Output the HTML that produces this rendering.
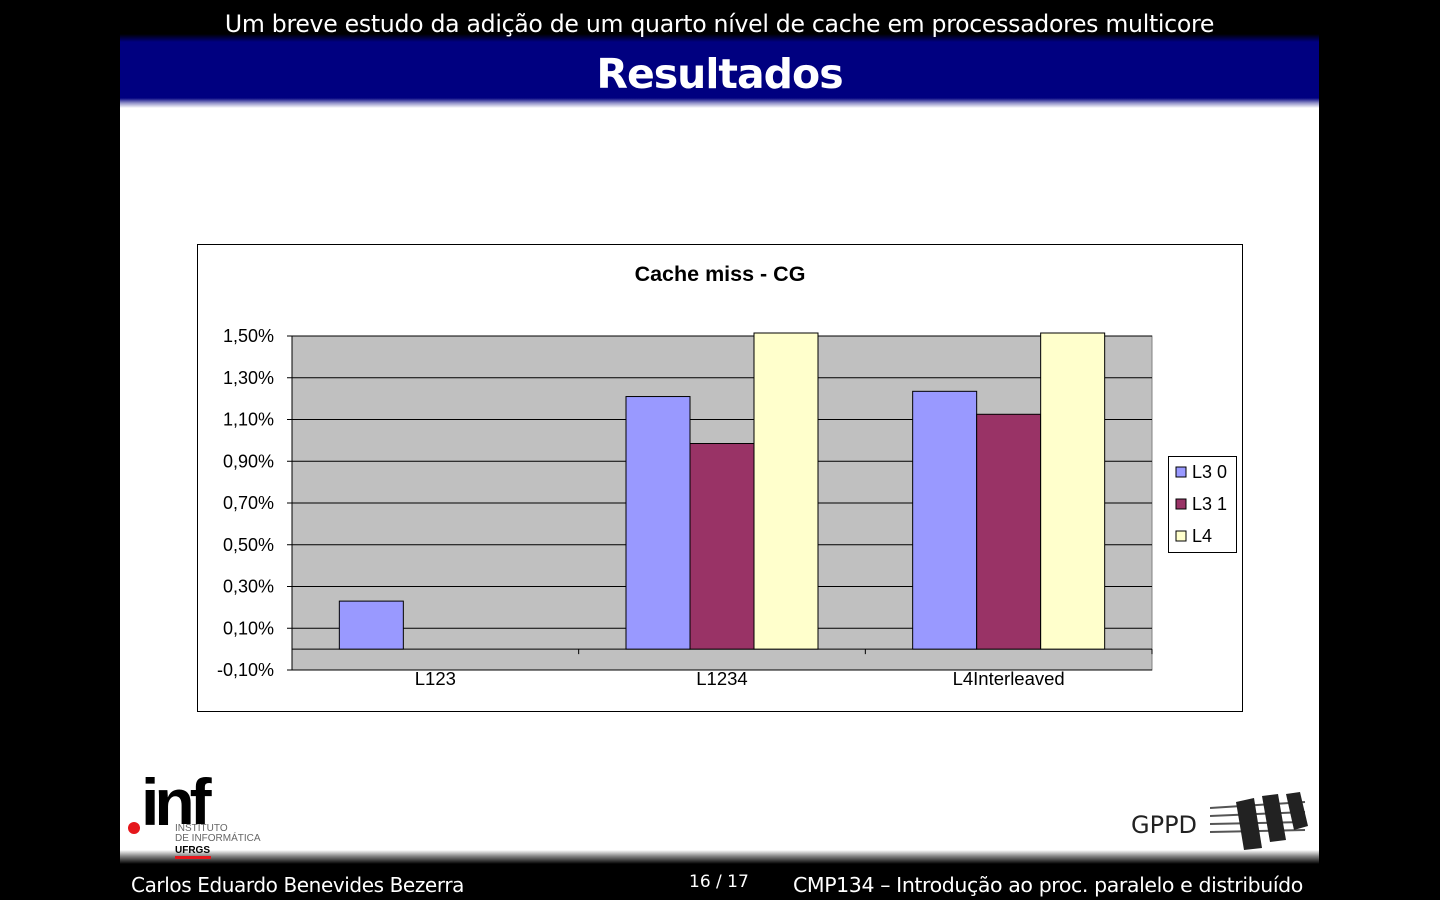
<!DOCTYPE html>
<html><head><meta charset="utf-8"><style>
body{margin:0;width:1440px;height:900px;background:#000;position:relative;overflow:hidden;font-family:"Liberation Sans",sans-serif}
.abs{position:absolute}
</style></head><body>
<div class="abs" style="left:120px;top:0;width:1199px;height:900px;background:#fff"></div>
<div class="abs" style="left:120px;top:0;width:1199px;height:42px;background:linear-gradient(#000 0,#000 34px,#000080 42px)"></div>
<div class="abs" style="left:120px;top:42px;width:1199px;height:66px;background:linear-gradient(#000080 0,#000080 56px,#9090c8 61px,#fff 66px)"></div>
<div class="abs" style="left:120px;top:10px;width:1199px;text-align:center;color:#fff;font-size:23.6px;font-family:'DejaVu Sans',sans-serif;letter-spacing:-0.3px">Um breve estudo da adição de um quarto nível de cache em processadores multicore</div>
<div class="abs" style="left:120px;top:50px;width:1199px;text-align:center;color:#fff;font-size:41px;font-weight:bold;font-family:'DejaVu Sans',sans-serif;letter-spacing:-1px">Resultados</div>
<div class="abs" style="left:120px;top:850px;width:1199px;height:50px;background:linear-gradient(#fff 0,#888 6px,#000 14px)"></div>
<div class="abs" style="left:131px;top:873px;color:#fff;font-size:20px;font-family:'DejaVu Sans',sans-serif;letter-spacing:-0.4px">Carlos Eduardo Benevides Bezerra</div>
<div class="abs" style="left:689px;top:872px;color:#fff;font-size:17px;font-family:'DejaVu Sans',sans-serif">16 / 17</div>
<div class="abs" style="left:793px;top:873px;color:#fff;font-size:20.5px;font-family:'DejaVu Sans',sans-serif;letter-spacing:-0.4px">CMP134 – Introdução ao proc. paralelo e distribuído</div>
<div class="abs" style="left:128px;top:770px;width:150px;height:90px">
 <div class="abs" style="left:0;top:52px;width:12px;height:12px;border-radius:50%;background:#e5161b"></div>
 <div class="abs" style="left:13px;top:-6px;font-size:66px;font-weight:bold;letter-spacing:-5px;color:#000">inf</div>
 <div class="abs" style="left:47px;top:54px;font-size:10px;color:#666;line-height:10px;background:#fff">INSTITUTO<br>DE INFORMÁTICA</div>
 <div class="abs" style="left:47px;top:75px;font-size:10px;font-weight:bold;color:#000">UFRGS</div>
 <div class="abs" style="left:47px;top:86px;width:36px;height:3px;background:#e5161b"></div>
</div>
<div class="abs" style="left:1131px;top:811px;font-size:24px;font-family:'DejaVu Sans',sans-serif;color:#222">GPPD</div>
<svg class="abs" style="left:1210px;top:790px" width="100" height="62">
 <g stroke="#555" stroke-width="2"><line x1="0" y1="18" x2="95" y2="12"/><line x1="0" y1="26" x2="95" y2="22"/><line x1="0" y1="34" x2="95" y2="32"/><line x1="0" y1="42" x2="95" y2="40"/></g>
 <g fill="#222"><polygon points="26,12 44,8 52,58 34,60"/><polygon points="52,6 68,4 76,50 60,52"/><polygon points="76,4 90,2 98,36 84,40"/></g>
</svg>
<div class="abs" style="left:197px;top:244px;width:1044px;height:466px;border:1px solid #000;background:#fff"></div>
<div class="abs" style="left:197px;top:262px;width:1046px;text-align:center;font-size:21.5px;font-weight:bold">Cache miss - CG</div>
<div class="abs" style="left:1168px;top:456px;width:67px;height:95px;border:1px solid #000;background:#fff"></div>
<svg class="abs" id="chart" style="left:0;top:0" width="1440" height="900"></svg>
<script>
const categories=["L123","L1234","L4Interleaved"];
const seriesNames=["L3 0","L3 1","L4"];
const seriesColors=["#9999ff","#993366","#ffffcc"];
const l30=[0.23,1.21,1.235];
const l31=[0,0.985,1.125];
const l4=[0,2.5,2.5];
const ticks=[-0.1,0.1,0.3,0.5,0.7,0.9,1.1,1.3,1.5];
const series=[l30,l31,l4];
const NS="http://www.w3.org/2000/svg";
const svg=document.getElementById('chart');
const X0=292,X1=1152,YT=336,YB=670,vmin=-0.1,vmax=1.5;
const y=v=>YB-(v-vmin)/(vmax-vmin)*(YB-YT);
const gw=(X1-X0)/categories.length;
const bw=64;
function mk(t,a){const e=document.createElementNS(NS,t);for(const k in a)e.setAttribute(k,a[k]);svg.appendChild(e);return e;}
const bg=mk('rect',{x:X0,y:YT,width:X1-X0,height:YB-YT,fill:'#c0c0c0',stroke:'#808080'});


ticks.forEach(t=>{
 const l=mk('line',{x1:X0,x2:X1,y1:y(t),y2:y(t),stroke:'#000','stroke-width':1});
 
 
 mk('line',{x1:X0-5,x2:X0,y1:y(t),y2:y(t),stroke:'#000'});
 const tx=mk('text',{x:X0-18,y:y(t)+6,'text-anchor':'end','font-size':18,'font-family':'Liberation Sans, sans-serif'});
 tx.textContent=t.toFixed(2).replace('.',',')+'%';
 
 
});
mk('line',{x1:X0,x2:X0,y1:YT,y2:YB,stroke:'#000'});
const y0=y(0);
mk('line',{x1:X0,x2:X1,y1:y0,y2:y0,stroke:'#000'});
categories.forEach((c,i)=>{
 const cx=X0+gw*(i+0.5);
 mk('line',{x1:X0+gw*(i+1),x2:X0+gw*(i+1),y1:y0,y2:y0+5,stroke:'#000'});
 series.forEach((s,j)=>{
  const v=s[i]; if(!v) return;
  const top=Math.max(y(v),YT-3);
  const r=mk('rect',{x:cx-96+j*bw,y:top,width:bw,height:y0-top,fill:seriesColors[j],stroke:'#000','stroke-width':1});
  
  
 });
 const tx=mk('text',{x:cx,y:685,'text-anchor':'middle','font-size':18.5,'font-family':'Liberation Sans, sans-serif'});
 tx.textContent=c;
 
 
});
seriesNames.forEach((n,j)=>{
 const yy=472+j*32;
 const r=mk('rect',{x:1176,y:yy-5,width:10,height:10,fill:seriesColors[j],stroke:'#000'});
 
 
 const t=mk('text',{x:1192,y:yy+6,'font-size':18,'font-family':'Liberation Sans, sans-serif'});
 t.textContent=n;
 
 
});
</script>
</body></html>
